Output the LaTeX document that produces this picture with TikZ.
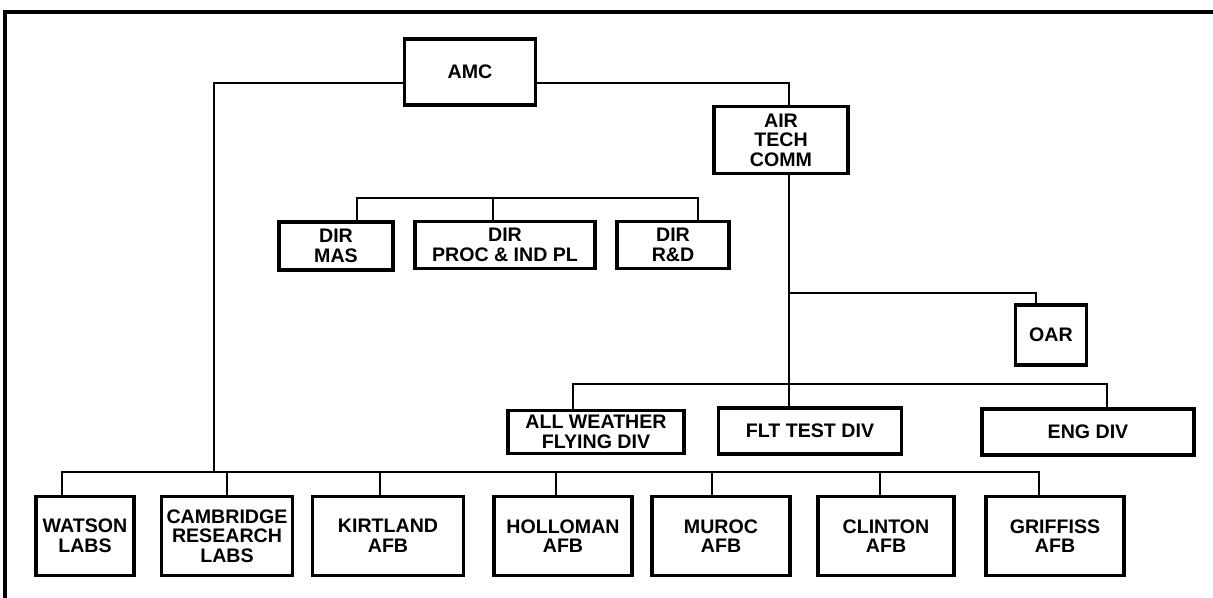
\documentclass[tikz,border=0pt]{standalone}
\usepackage{fontspec}
\setmainfont{Liberation Sans}

\begin{document}
\begin{tikzpicture}[x=0.5pt,y=-0.5pt]
	\tikzstyle{unit}=[draw=black,line width=1.6pt,rectangle,align=center,inner sep=1pt,font=\fontsize{9.8}{9.8}\selectfont\bfseries]
	\tikzstyle{wire}=[line width=1.4pt]

	\path [use as bounding box] (0,0) rectangle (1213,598);
	\draw [line width=2.2pt] (1213,12) -- (5,12) -- (5,598);

	\node [unit] (amc) at (470,72) [minimum width=65.5pt,minimum height=33pt] {AMC};
	\node [unit] (air) at (781,140) [minimum width=67pt,minimum height=33.5pt] {AIR\\TECH\\COMM};

	\node [unit] (dirmas) at (336,246) [minimum width=57pt,minimum height=24pt] {DIR\\MAS};
	\node [unit] (dirproc) at (505,245) [minimum width=90pt,minimum height=23.5pt] {DIR\\PROC \& IND PL};
	\node [unit] (dirrd) at (673,245) [minimum width=56pt,minimum height=23.5pt] {DIR\\R\&D};

	\node [unit] (oar) at (1051,335) [minimum width=35.5pt,minimum height=30pt] {OAR};

	\node [unit] (allw) at (596,432) [minimum width=88pt,minimum height=21.5pt] {ALL WEATHER\\FLYING DIV};
	\node [unit] (flt) at (810,431) [minimum width=91.5pt,minimum height=23pt] {FLT TEST DIV};
	\node [unit] (eng) at (1088,432) [minimum width=106pt,minimum height=23pt] {ENG DIV};

	\node [unit] (watson) at (85,536) [minimum width=49pt,minimum height=39.5pt] {WATSON\\LABS};
	\node [unit] (cambridge) at (227,536) [minimum width=65.5pt,minimum height=39.5pt] {CAMBRIDGE\\RESEARCH\\LABS};
	\node [unit] (kirtland) at (388,536) [minimum width=75.5pt,minimum height=39.5pt] {KIRTLAND\\AFB};
	\node [unit] (holloman) at (563,536) [minimum width=69pt,minimum height=39.5pt] {HOLLOMAN\\AFB};
	\node [unit] (muroc) at (721,536) [minimum width=69pt,minimum height=39.5pt] {MUROC\\AFB};
	\node [unit] (clinton) at (886,536) [minimum width=68pt,minimum height=39.5pt] {CLINTON\\AFB};
	\node [unit] (griffiss) at (1055,536) [minimum width=69pt,minimum height=39.5pt] {GRIFFISS\\AFB};

	\coordinate (amcL) at (214,83);
	\coordinate (amcR) at (789,83);
	\coordinate (dirbus) at (357,198);
	\coordinate (oarbus) at (789,293);
	\coordinate (divbus) at (573,384);
	\coordinate (labbus) at (62,472);

	\draw [wire] (amc.west |- amcL) -- (amcL) -- (amcL |- labbus);
	\draw [wire] (amc.east |- amcR) -- (amcR) -- (amcR |- air.north);
	\draw [wire] ([xshift=4pt]air.south) -- ([xshift=4pt]air.south |- flt.north);
	\draw [wire] (oarbus) -| ([xshift=-7.5pt]oar.north);

	\draw [wire] ([xshift=10.5pt]dirmas.north) -- (dirbus) -| ([xshift=12.5pt]dirrd.north);
	\draw [wire] ([xshift=-6pt]dirproc.north) -- ([xshift=-6pt]dirproc.north |- dirbus);

	\draw [wire] ([xshift=-11.5pt]allw.north) -- (divbus) -| ([xshift=9.5pt]eng.north);

	\draw [wire] ([xshift=-11.5pt]watson.north) -- (labbus) -| ([xshift=-8pt]griffiss.north);
	\foreach \n/\d in {cambridge/0pt,kirtland/-4pt,holloman/-3.5pt,muroc/-4.5pt,clinton/-3pt}
		\draw [wire] ([xshift=\d]\n.north) -- ([xshift=\d]\n.north |- labbus);
\end{tikzpicture}
\end{document}
